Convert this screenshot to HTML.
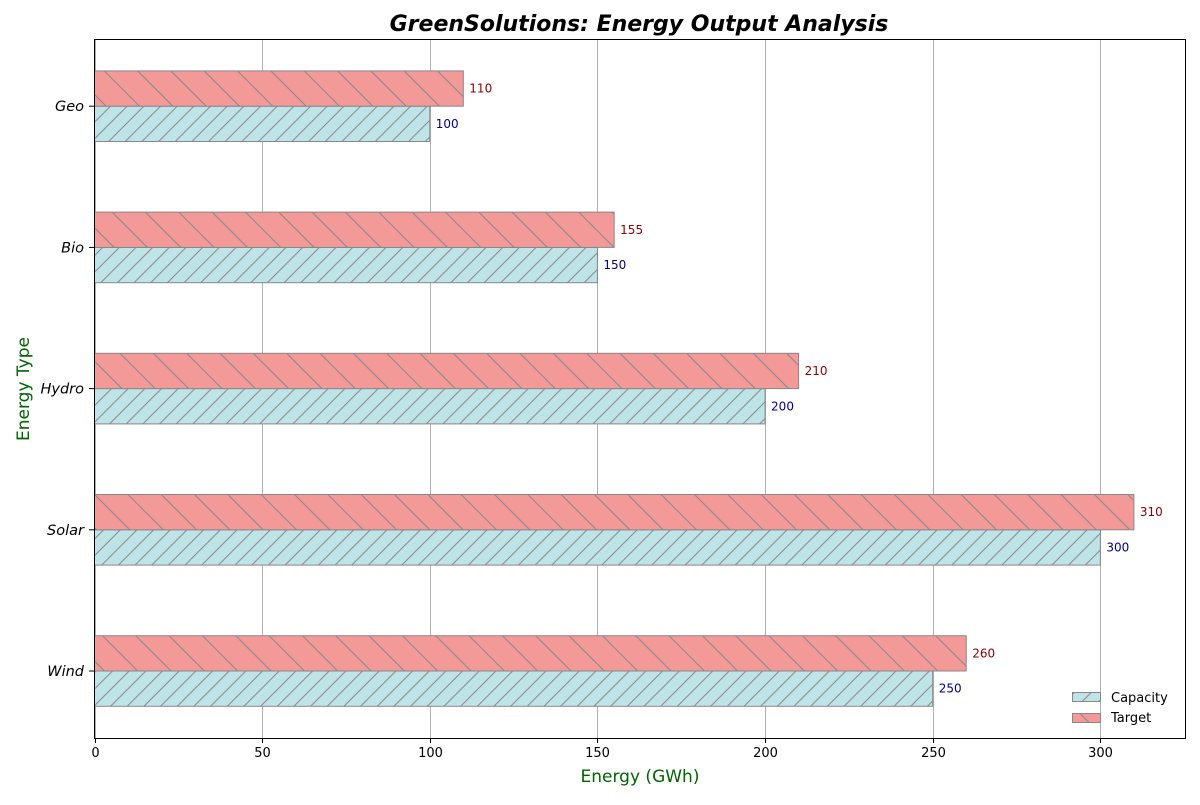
<!DOCTYPE html>
<html><head><meta charset="utf-8"><style>
body{margin:0;background:#fff}
text{font-family:"DejaVu Sans","Liberation Sans",sans-serif}
</style></head><body>
<svg id="c" width="1200" height="800" xmlns="http://www.w3.org/2000/svg">
<defs>
<pattern id="hc" patternUnits="userSpaceOnUse" width="16.67" height="16.67">
<rect width="16.67" height="16.67" fill="#bfe4e8"/>
<path d="M0,16.67 L16.67,0 M-4,4 L4,-4 M12.67,20.67 L20.67,12.67" stroke="#888" stroke-width="1"/>
</pattern>
<pattern id="ht" patternUnits="userSpaceOnUse" width="33.33" height="33.33">
<rect width="33.33" height="33.33" fill="#f39a99"/>
<path d="M0,0 L33.33,33.33 M-4,29.33 L4,37.33 M29.33,-4 L37.33,4" stroke="#888" stroke-width="1"/>
</pattern>
</defs>
<g id="grid"></g>
<g id="bars"></g>
<rect x="94.5" y="39.5" width="1091" height="699" fill="none" stroke="#000" stroke-width="1"/>
<g id="axes"></g>
<text x="639" y="31" text-anchor="middle" font-size="22" font-weight="bold" font-style="italic">GreenSolutions: Energy Output Analysis</text>
<text x="640" y="782" text-anchor="middle" font-size="17" fill="#006400">Energy (GWh)</text>
<text x="29" y="389" text-anchor="middle" font-size="17" fill="#006400" transform="rotate(-90 29 389)">Energy Type</text>
<g>
<g>
<rect x="1072.5" y="692.5" width="28" height="9" fill="url(#hc)" stroke="#888"/>
<text x="1111" y="702" font-size="13">Capacity</text></g>
<g>
<rect x="1072.5" y="713.5" width="28" height="9" fill="url(#ht)" stroke="#888"/>
<text x="1111" y="722" font-size="13">Target</text></g>
</g>
</svg>
<script>
const categories=["Wind","Solar","Hydro","Bio","Geo"];
const capacity=[250,300,200,150,100];
const target=[260,310,210,155,110];
const xTicks=[0,50,100,150,200,250,300];
const NS="http://www.w3.org/2000/svg";
const X0=94.5,XMAX=325.4,PW=1091;
function xs(v){return X0+v/XMAX*PW;}
function ys(i){return 671-i*141.2;}
const BH=35.3;
function mk(t,a,p){const e=document.createElementNS(NS,t);for(const k in a)e.setAttribute(k,a[k]);p.appendChild(e);return e;}
const grid=document.getElementById('grid'),bars=document.getElementById('bars'),axes=document.getElementById('axes');
xTicks.forEach(v=>{
 const x=Math.round(xs(v))+0.5;
 const g=mk('line',{x1:x,x2:x,y1:39.5,y2:738.5,stroke:'#b0b0b0','stroke-width':1},grid);
 
 
 const t=mk('line',{x1:x,x2:x,y1:738.5,y2:743,stroke:'#000'},axes);
 
 
 const l=mk('text',{x:x,y:757,'text-anchor':'middle','font-size':13},axes);
 l.textContent=v;
 
 
});
categories.forEach((c,i)=>{
 const y=ys(i);
 const t=mk('line',{x1:89,x2:94.5,y1:y,y2:y,stroke:'#000'},axes);
 
 
 const l=mk('text',{x:84,y:y+5,'text-anchor':'end','font-size':14.5,'font-style':'italic'},axes);
 l.textContent=c;
 
 
 const b1=mk('rect',{x:X0,y:y,width:xs(capacity[i])-X0,height:BH,fill:'url(#hc)',stroke:'#888','stroke-width':1},bars);
 
 
 const b2=mk('rect',{x:X0,y:y-BH,width:xs(target[i])-X0,height:BH,fill:'url(#ht)',stroke:'#888','stroke-width':1},bars);
 
 
 const v1=mk('text',{x:xs(capacity[i])+6,y:y+BH/2+4,'font-size':12,fill:'#00008b'},bars);
 v1.textContent=capacity[i];
 
 
 const v2=mk('text',{x:xs(target[i])+6,y:y-BH/2+4,'font-size':12,fill:'#8b0000'},bars);
 v2.textContent=target[i];
 
 
});
</script>
</body></html>
